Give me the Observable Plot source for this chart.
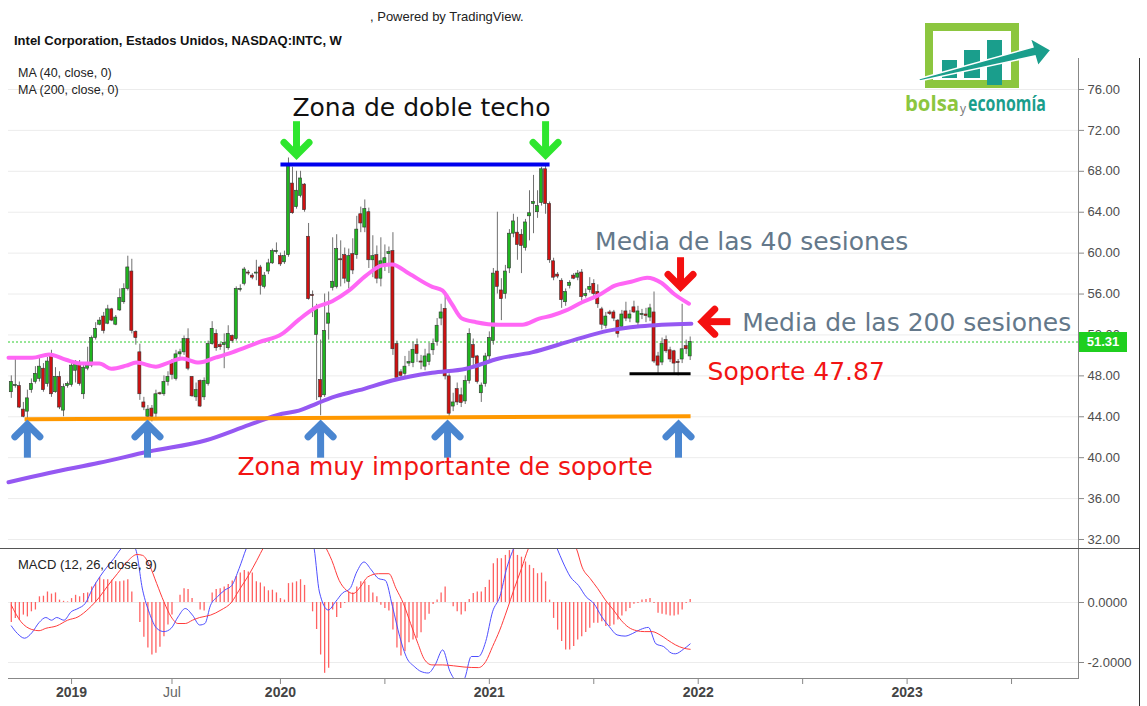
<!DOCTYPE html>
<html><head><meta charset="utf-8">
<script src="https://cdn.jsdelivr.net/npm/d3@7"></script>
<script src="https://cdn.jsdelivr.net/npm/@observablehq/plot@0.6"></script>
<style>
body{margin:0;background:#fff;}
#wrap{position:relative;width:1147px;height:706px;overflow:hidden;background:#fff;font-family:"Liberation Sans",Arial,sans-serif;}
.abs{position:absolute;white-space:nowrap;}
</style></head><body>
<div id="wrap">
  <div id="price" class="abs" style="left:0;top:0"></div>
  <div id="macd" class="abs" style="left:0;top:548px"></div>
  <div class="abs" style="left:370px;top:9px;font-size:13px;color:#222">, Powered by TradingView.</div>
  <div class="abs" style="left:14px;top:33px;font-size:13px;font-weight:bold;color:#111">Intel Corporation, Estados Unidos, NASDAQ:INTC, W</div>
  <div class="abs" style="left:18px;top:66px;font-size:12.5px;color:#222">MA (40, close, 0)</div>
  <div class="abs" style="left:18px;top:83px;font-size:12.5px;color:#222">MA (200, close, 0)</div>
  <div class="abs" style="left:18px;top:557px;font-size:13px;color:#222">MACD (12, 26, close, 9)</div>
  <div class="abs" style="left:0;top:548px;width:1139px;height:1px;background:#555"></div>
  <div class="abs" style="left:1139px;top:58px;width:1px;height:648px;background:#333"></div>
  <div id="lastbox" class="abs" style="left:1079px;width:48px;height:20px;background:#1fcf1f;color:#fff;font-weight:bold;font-size:13px;line-height:20px;text-align:center"></div>
  <svg class="abs" style="left:900px;top:15px" width="200" height="110" viewBox="900 15 200 110">
    <rect x="929" y="27" width="86" height="57" fill="none" stroke="#8cc63f" stroke-width="8"/>
    <rect x="942" y="60" width="15" height="18" fill="#1a9e8c"/>
    <rect x="964" y="50" width="16" height="28" fill="#1a9e8c"/>
    <rect x="987" y="40" width="15" height="45" fill="#1a9e8c"/>
    <polygon points="918,79 1033,47 1030,38 1051,50 1038,66 1035,56 920,81" fill="#1a9e8c" stroke="#fff" stroke-width="1.5"/>
    <text x="905" y="111" font-family="Open Sans, sans-serif" font-weight="bold" font-size="21" fill="#8cc63f" textLength="54" lengthAdjust="spacingAndGlyphs">bolsa</text>
    <text x="960" y="113" font-family="Open Sans, sans-serif" font-size="12" fill="#777">y</text>
    <text x="968" y="111" font-family="Open Sans, sans-serif" font-weight="bold" font-size="21" fill="#1a9e8c" textLength="78" lengthAdjust="spacingAndGlyphs">economía</text>
  </svg>
</div>
<script>
// ---- weekly candles (week 0 = 2018-09-24) ----
const firstWeek = "2018-09-24";
const opens = [46.4,47.0,47.0,44.7,44.5,46.6,47.4,47.7,48.7,47.2, 50.0,46.4,47.9,44.6,47.0,47.1,48.5,49.2,46.2,48.7, 49.0,51.7,53.0,53.8,53.1,54.5,53.0,54.4,55.2,56.5, 58.2,52.3,50.3,45.4,44.0,44.8,44.3,46.3,46.2,47.4, 49.3,47.7,50.1,50.3,51.6,47.9,45.9,47.5,45.9,47.2, 51.1,52.1,51.0,51.0,50.7,51.9,51.6,56.4,57.0,58.1, 57.8,58.0,58.6,56.7,58.2,59.0,60.1,59.7,59.1,59.8, 66.8,64.5,65.6,66.7,61.6,55.9,52.0,47.6,46.1,53.1, 56.6,56.7,59.4,59.8,57.2,59.9,59.8,63.8,62.5,64.0, 59.3,59.8,57.5,58.8,59.9,60.2,51.1,48.35,48.2,49.2, 49.25,51.0,49.4,48.9,49.35,50.5,51.3,53.6,54.55,47.95, 45.0,46.7,46.1,45.5,47.5,51.0,49.9,46.3,47.2,49.9, 51.4,58.2,56.35,56.0,58.5,61.9,62.0,61.8,60.5,63.6, 64.8,64.0,64.9,68.2,64.8,59.2,57.9,57.3,55.2,56.8, 57.8,57.6,58.1,55.8,56.4,57.0,56.2,54.5,52.9,54.2, 54.2,53.4,52.8,54.3,53.6,54.7,53.2,53.95,54.0,53.7, 54.2,49.9,49.3,51.5,50.5,50.4,49.35,49.6,50.9,49.9];
const highs = [48.0,49.8,47.4,45.4,46.6,47.7,48.9,49.7,49.2,49.8, 50.5,48.8,48.4,47.2,47.4,49.2,49.5,49.5,49.2,50.8, 51.9,53.2,53.7,54.2,54.9,54.6,53.9,56.5,57.0,59.7, 59.4,52.4,51.1,45.9,45.1,45.1,46.6,46.4,48.0,48.4, 49.6,50.5,50.6,51.9,52.6,47.9,47.3,47.6,47.8,51.4, 53.3,52.5,51.2,52.1,52.9,52.0,56.7,56.9,58.6,58.3, 58.0,59.3,58.8,58.1,59.4,60.4,61.0,60.0,60.2,69.3, 68.4,68.0,68.0,66.8,62.9,56.3,55.0,51.5,56.0,56.2, 61.5,61.8,61.2,60.5,60.4,61.4,63.6,64.5,65.2,64.4, 61.7,60.7,61.5,60.8,60.6,62.0,51.4,48.6,49.9,50.4, 51.3,51.6,50.0,50.6,51.2,51.6,53.6,55.0,56.2,48.2, 46.3,47.3,46.8,48.0,52.6,51.6,50.0,47.3,50.2,52.3, 58.5,64.0,57.5,58.8,62.3,63.8,63.5,62.3,63.3,66.1, 67.6,66.1,68.4,68.5,65.0,59.5,58.1,57.5,56.5,57.3, 58.0,58.3,58.4,56.5,57.6,57.4,56.9,54.7,54.2,54.4, 54.4,53.5,54.4,55.2,54.4,55.3,54.8,54.5,54.6,55.0, 56.2,50.3,51.7,51.9,50.8,50.5,49.6,55.0,51.5,51.8];
const lows = [45.8,46.8,44.8,43.9,43.8,46.3,47.2,47.4,46.4,46.9, 45.9,46.3,44.7,44.0,46.8,46.9,47.3,47.0,45.7,48.5, 48.8,51.5,52.9,52.1,53.0,53.3,52.9,54.3,55.0,56.3, 52.1,51.0,45.6,44.6,43.3,43.5,43.8,46.1,46.0,47.0, 47.6,47.5,49.8,50.0,48.5,45.9,45.5,44.9,45.6,47.0, 51.0,50.4,50.5,48.7,50.5,51.2,51.4,56.2,56.8,57.8, 57.4,57.3,55.9,56.5,57.9,58.9,59.9,58.7,58.9,59.6, 63.8,64.3,65.4,64.0,55.4,53.7,45.6,44.1,45.9,51.5, 56.3,56.5,56.7,57.0,56.5,57.9,59.4,62.0,62.0,58.5, 57.6,57.0,56.7,58.2,58.0,50.0,47.5,47.8,47.8,48.9, 48.8,49.3,48.6,48.5,49.0,50.0,50.9,52.9,47.6,43.9, 44.5,45.1,44.9,45.2,47.2,49.0,47.2,45.4,46.9,49.5, 51.0,56.0,53.4,55.5,58.0,61.5,59.3,58.0,60.2,61.2, 61.9,63.4,64.6,63.8,59.0,57.3,57.5,54.6,54.8,56.5, 57.4,57.3,55.3,55.6,56.1,55.7,54.6,52.5,52.6,53.9, 53.3,51.7,52.6,53.3,53.2,54.1,52.7,53.5,53.2,53.3, 49.2,48.2,49.0,50.2,49.3,48.1,48.0,49.2,50.1,49.5];
const closes = [47.4,47.1,44.9,44.0,45.8,47.2,48.2,48.9,46.6,49.4, 46.2,47.9,44.9,46.9,47.2,49.0,49.3,47.2,48.8,49.0, 51.7,52.6,53.4,52.4,54.5,53.4,53.7,55.6,56.5,58.6, 52.4,51.7,46.2,44.9,44.7,44.0,46.2,46.2,47.4,47.9, 48.1,50.1,50.3,51.6,48.7,46.0,46.6,45.0,47.5,51.1, 52.6,50.7,50.8,51.2,52.1,51.4,56.5,56.5,58.4,58.0, 57.6,58.1,56.8,57.8,59.0,60.2,60.2,58.9,59.7,68.5, 63.9,66.1,67.3,64.2,55.5,55.8,54.5,45.9,52.4,54.1, 57.2,60.4,59.3,57.5,59.7,58.3,62.3,62.9,64.3,59.3, 59.7,57.5,59.2,59.5,60.1,50.6,47.8,48.0,48.9,49.35, 50.55,50.15,49.3,49.9,50.1,51.1,52.9,54.2,47.95,44.3, 45.4,45.4,45.35,47.5,52.1,49.75,47.4,47.05,49.9,51.7, 58.0,56.7,55.5,58.2,61.9,63.1,60.8,60.7,63.0,63.9, 65.0,64.6,68.2,64.8,59.3,57.6,57.7,55.4,56.2,57.1, 57.5,58.0,55.7,56.0,56.7,56.0,55.0,53.0,53.8,54.05, 53.6,52.1,54.0,53.6,54.0,54.2,54.3,54.05,53.85,54.6, 49.4,49.0,51.1,50.4,49.6,49.2,49.25,50.6,50.6,51.31];
const lastPrice = 51.31;

// ---- moving averages (read at week positions) ----
const ma40Weeks = [-0.7,5.2,9.4,13.6,17.6,21.9,24.9,28.6,31.1,36.0,38.5,42.5,46.7,51.0,55.0,61.7,67.4,71.6,75.9,79.9,84.1,88.3,92.3,94.8,99.0,104.8,107.3,109.7,112.2,115.7,121.4,127.2,131.4,134.6,138.1,142.1,146.3,150.1,154.3,158.3,161.8,165.0,168.7];
const ma40Values = [49.77,49.77,50.1,49.57,49.2,49.2,48.7,49.0,49.3,48.9,49.2,49.7,49.3,49.8,50.3,51.3,52.1,53.5,54.7,55.3,56.35,57.8,58.8,58.9,58.0,56.7,56.35,55.0,53.6,53.25,53.0,53.0,53.6,53.9,54.4,55.2,55.9,56.8,57.2,57.6,57.1,56.0,55.05];
const ma200Weeks = [-0.7,9.4,21.9,34.3,48.5,59.2,67.4,71.6,75.9,79.9,86.6,94.8,104.8,113.2,121.4,129.6,140.0,148.4,156.6,169.3];
const ma200Values = [37.6,38.5,39.5,40.6,41.7,43.2,44.3,44.6,45.27,45.9,46.6,47.55,48.3,48.7,49.7,50.3,51.5,52.4,52.85,53.1];

// ---- MACD panel ----
const histValues = [-0.67,-0.53,-0.59,-0.42,-0.48,-0.31,-0.25,0.19,0.21,0.35, 0.28,0.32,0.08,0.04,0.02,0.13,0.24,0.19,0.30,0.32, 0.52,0.65,0.83,0.76,0.76,0.74,0.69,0.69,0.72,0.76, 0.35,0.0,-0.67,-1.16,-1.52,-1.75,-1.69,-1.49,-1.14,-0.75, -0.42,0.0,0.24,0.46,0.43,0.13,0.0,-0.25,-0.28,0.0, 0.32,0.43,0.46,0.52,0.60,0.72,0.87,0.98,1.07,1.02, 0.98,0.69,0.65,0.52,0.39,0.41,0.32,0.13,0.08,0.63, 0.65,0.69,0.76,0.57,0.0,-0.31,-0.90,-1.75,-2.36,-2.19, -0.25,-0.50,-0.20,-0.03,0.35,0.32,0.52,0.69,0.69,0.57, 0.32,0.19,-0.09,-0.20,-0.28,-0.92,-1.52,-1.78,-1.64,-1.34, -1.25,-1.19,-1.01,-0.59,-0.39,-0.07,0.08,0.32,0.52,0.0, -0.14,-0.31,-0.42,-0.31,0.10,0.30,0.35,0.35,0.50,0.74, 1.29,1.46,1.46,1.57,1.73,1.79,1.57,1.51,1.35,1.24, 1.13,0.96,0.98,0.69,0.08,-0.53,-0.92,-1.30,-1.58,-1.58, -1.47,-1.25,-1.14,-1.0,-0.86,-0.69,-0.69,-0.64,-0.80,-0.80, -0.75,-0.58,-0.45,-0.31,-0.20,-0.06,-0.03,0.08,0.10,0.13, -0.03,-0.36,-0.39,-0.42,-0.45,-0.45,-0.42,-0.25,-0.03,0.10];
const macdWeeks = [0,1.5,3.3,5.1,6.9,8.6,10.0,11.3,13.1,14.9,16.6,18.4,20.2,22.0,23.8,25.5,27.3,29.1,30.9,32.7,34.4,36.2,38.0,39.8,41.5,43.3,45.1,46.9,48.2,49.6,51.3,53.1,54.9,56.7,58.5,60.2,63.8,68.2,70.9,73.6,75.4,76.7,78.9,80.7,82.5,84.3,86.0,87.8,89.6,91.4,93.1,94.9,96.7,98.5,100.3,102.0,103.8,105.5,107.4,109.2,110.9,112.7,114.5,116.3,118.1,119.8,121.6,123.4,125.2,127,130.5,134,135.9,137.3,139.2,141.2,143.1,145.0,147.0,148.9,150.8,152.8,154.7,156.6,158.6,160.5,162.4,164.4,165.3,167.3,169.0];
const macdValues = [-0.78,-1.03,-1.19,-1.01,-0.67,-0.50,-0.59,-0.50,-0.59,-0.31,-0.20,-0.03,0.46,0.85,1.18,1.46,1.79,2.0,1.79,0.41,-0.36,-0.86,-0.97,-0.86,-0.48,-0.20,-0.42,-0.75,-0.70,-0.09,0.19,0.41,0.57,1.13,1.8,2.3,2.5,2.6,3.2,2.6,1.79,0.35,-0.25,0.02,0.32,0.46,1.02,1.35,1.09,0.80,0.74,-0.14,-1.14,-1.86,-2.13,-2.30,-2.35,-2.08,-1.58,-2.30,-2.6,-2.55,-1.80,-1.80,-1.30,-0.31,0.19,1.18,1.85,2.4,2.8,2.4,1.79,1.35,0.85,0.57,0.19,-0.03,-0.48,-0.81,-1.08,-1.12,-1.03,-0.90,-0.83,-1.38,-1.47,-1.69,-1.71,-1.56,-1.38];
const signalWeeks = [0,2.4,5.1,6.9,8.6,11.3,14.0,16.6,19.3,22.0,23.8,26.4,29.1,31.3,32.7,34.4,36.2,38.0,39.8,41.5,43.3,45.1,46.9,49.6,52.2,54.9,56.7,59.3,61.1,62.9,66.5,70.9,75.4,78.0,79.8,81.6,83.4,85.1,86.9,88.7,91.4,94.0,95.8,97.6,99.4,101.2,102.9,104.7,107.4,110.1,112.7,116.3,118.1,119.8,121.6,123.4,125.2,127.0,128.7,132.3,135.9,140.7,142.1,144.1,146.0,147.9,149.9,151.8,153.7,155.7,157.6,159.5,161.5,163.4,165.3,167.3,169.0];
const signalValues = [-0.09,-0.64,-0.90,-0.94,-0.86,-0.78,-0.59,-0.48,-0.20,0.19,0.52,0.96,1.40,1.60,1.57,1.24,0.63,0.02,-0.48,-0.70,-0.70,-0.59,-0.50,-0.42,-0.25,0.02,0.41,0.96,1.40,1.85,2.3,2.6,2.4,1.9,1.40,0.74,0.41,0.30,0.52,0.85,0.96,0.96,0.46,-0.03,-0.70,-1.36,-1.91,-2.08,-2.08,-2.11,-2.15,-2.17,-1.97,-1.47,-0.92,-0.25,0.46,1.13,1.79,2.4,2.6,1.79,1.18,0.80,0.46,0.08,-0.25,-0.59,-0.83,-0.94,-0.97,-0.97,-1.08,-1.25,-1.41,-1.52,-1.56];

// ---- axes ----
const priceTicks = [32,36,40,44,48,52,56,60,64,68,72,76];
const macdTicks = [0,-2];
const yearTicks = ["2019-01-07","2020-01-06","2021-01-04","2022-01-03","2023-01-02"];
const julTicks = ["2019-07-01","2020-07-06","2021-07-05","2022-07-04","2023-07-03"];
const julLabels = ["Jul","","","",""];

// ---- annotations (week index, price) ----
const annTexts = ["Zona de doble techo","Media de las 40 sesiones","Media de las 200 sesiones","Soporte 47.87","Zona muy importante de soporte"];
const annWeeks = [102.1,184.3,222.9,195.4,108.0];
const annPrices = [74.19,61.04,53.12,48.33,39.04];
const annColors = ["#111111","#64788a","#64788a","#f21414","#f21414"];
// arrows: tail (week, price) -> tip (week, price)
const arrowTailWeeks = [71.0,133.0, 4.0,33.9,77.0,108.6,166.1, 166.6, 179.0];
const arrowTailPrices = [72.9,72.9, 40.0,40.0,40.0,40.0,40.0, 59.6, 53.3];
const arrowTipWeeks = [71.0,133.0, 4.0,33.9,77.0,108.6,166.1, 166.6, 171.0];
const arrowTipPrices = [69.2,69.2, 43.65,43.65,43.65,43.65,43.65, 56.3, 53.3];
const arrowColors = ["#2ee62e","#2ee62e","#4a86d0","#4a86d0","#4a86d0","#4a86d0","#4a86d0","#f41010","#f41010"];

const t0 = new Date(firstWeek + "T00:00:00Z").getTime();
const wk = i => new Date(t0 + i * 7 * 864e5);
const weekDomain = [-0.70, 265.67];
const priceDomain = [31.12, 79.03];
const xDomain = weekDomain.map(wk);

// pixel scale factors of the price panel (for the arrowhead geometry)
const W = 1147, H = 548, mL = 8, mR = 69, mT = 58, mB = 0;
const kx = (W - mL - mR) / (weekDomain[1] - weekDomain[0]);
const ky = (H - mT - mB) / (priceDomain[1] - priceDomain[0]);

const candles = opens.map((o, i) => ({date: wk(i), x1: wk(i - 0.38), x2: wk(i + 0.38), o, h: highs[i], l: lows[i], c: closes[i]}));
const ma40 = ma40Weeks.map((w, i) => ({date: wk(w), v: ma40Values[i]}));
const ma200 = ma200Weeks.map((w, i) => ({date: wk(w), v: ma200Values[i]}));
const anns = annTexts.map((t, i) => ({t, date: wk(annWeeks[i]), p: annPrices[i], col: annColors[i]}));

const shafts = [], heads = [];
arrowTailWeeks.forEach((tw, i) => {
  const ax = tw * kx, ay = -arrowTailPrices[i] * ky;
  const bx = arrowTipWeeks[i] * kx, by = -arrowTipPrices[i] * ky;
  const len = Math.hypot(bx - ax, by - ay), ux = (bx - ax) / len, uy = (by - ay) / len;
  const nx = -uy, ny = ux;
  const vx = bx - 4 * ux, vy = by - 4 * uy;
  const wing = 12.5;
  const toD = (px, py) => ({date: wk(px / kx), p: -py / ky, k: i, col: arrowColors[i]});
  const t = toD(ax, ay), v = toD(vx, vy);
  shafts.push({d1: t.date, p1: t.p, d2: v.date, p2: v.p, col: arrowColors[i]});
  heads.push(toD(vx - wing * ux + wing * nx, vy - wing * uy + wing * ny), v, toD(vx - wing * ux - wing * nx, vy - wing * uy - wing * ny));
});

const commonStyle = {background: "transparent", fontFamily: "Liberation Sans, Arial, sans-serif", overflow: "visible"};

const price = Plot.plot({
  width: W, height: H, marginTop: mT, marginBottom: mB, marginLeft: mL, marginRight: mR,
  style: commonStyle,
  x: {type: "utc", domain: xDomain, axis: null},
  y: {domain: priceDomain, axis: null},
  marks: [
    Plot.gridY(priceTicks, {stroke: "#ececec", strokeOpacity: 1}),
    Plot.ruleY([lastPrice], {stroke: "#2ecc2e", strokeDasharray: "2,2"}),
    Plot.ruleX(candles, {x: "date", y1: "l", y2: "h", stroke: "#707070", strokeWidth: 1}),
    Plot.rect(candles, {x1: "x1", x2: "x2", y1: "o", y2: "c", fill: d => d.c >= d.o ? "#1fb51f" : "#d01010", stroke: "#333", strokeWidth: 0.6}),
    Plot.line(ma200, {x: "date", y: "v", stroke: "#9558f2", strokeWidth: 4, curve: "monotone-x"}),
    Plot.line(ma40, {x: "date", y: "v", stroke: "#ff66f5", strokeWidth: 4, curve: "monotone-x"}),
    Plot.link([{a: wk(67.0), b: wk(134.0)}], {x1: "a", x2: "b", y1: 68.67, y2: 68.67, stroke: "#0000ee", strokeWidth: 4}),
    Plot.link([{a: wk(3.3), b: wk(169.1)}], {x1: "a", x2: "b", y1: 43.75, y2: 44.05, stroke: "#ff9800", strokeWidth: 4}),
    Plot.link([{a: wk(153.9), b: wk(169.1)}], {x1: "a", x2: "b", y1: 48.2, y2: 48.2, stroke: "#000", strokeWidth: 3}),
    Plot.link(shafts, {x1: "d1", y1: "p1", x2: "d2", y2: "p2", stroke: "col", strokeWidth: 7}),
    Plot.line(heads, {x: "date", y: "p", z: "k", stroke: "col", strokeWidth: 7, strokeLinejoin: "miter", strokeMiterlimit: 4}),
    Plot.text(anns, {x: "date", y: "p", text: "t", fill: "col", fontSize: 25, fontFamily: "DejaVu Sans", textAnchor: "middle", lineAnchor: "middle"}),
    Plot.axisY({anchor: "right", label: null, ticks: priceTicks, tickFormat: d => d.toFixed(2), tickSize: 5, tickPadding: 4, fontSize: 13, fill: "#4d4d4d", stroke: "#888"}),
    Plot.frame({anchor: "right", stroke: "#888"})
  ]
});
document.getElementById("price").appendChild(price);

const hist = histValues.map((v, i) => ({date: wk(i), v}));
const macd = macdWeeks.map((w, i) => ({date: wk(w), v: macdValues[i]}));
const sig = signalWeeks.map((w, i) => ({date: wk(w), v: signalValues[i]}));
const macdChart = Plot.plot({
  width: W, height: 158, marginTop: 0, marginBottom: 28, marginLeft: mL, marginRight: mR,
  style: commonStyle,
  x: {type: "utc", domain: xDomain, axis: null},
  y: {domain: [-2.533, 1.8], axis: null},
  marks: [
    Plot.gridY(macdTicks, {stroke: "#ececec", strokeOpacity: 1}),
    Plot.ruleX(hist, {x: "date", y1: 0, y2: "v", stroke: "#ff6161", strokeWidth: 1.3}),
    Plot.line(macd, {x: "date", y: "v", stroke: "#4f4fff", strokeWidth: 1, curve: "monotone-x", clip: true}),
    Plot.line(sig, {x: "date", y: "v", stroke: "#ff3c3c", strokeWidth: 1, curve: "monotone-x", clip: true}),
    Plot.axisY({anchor: "right", label: null, ticks: macdTicks, tickFormat: d => d.toFixed(4), tickSize: 5, tickPadding: 4, fontSize: 13, fill: "#4d4d4d", stroke: "#888"}),
    Plot.axisX({label: null, ticks: yearTicks.map(d => new Date(d)), tickFormat: d => String(d.getUTCFullYear()), fontSize: 14, fontWeight: "bold", fill: "#444", stroke: "#888", tickSize: 6, tickPadding: 3}),
    Plot.axisX({label: null, ticks: julTicks.map(d => new Date(d)), tickFormat: (d, i) => julLabels[i], fontSize: 14, fill: "#666", stroke: "#888", tickSize: 6, tickPadding: 3}),
    Plot.frame({anchor: "bottom", stroke: "#888"}),
    Plot.frame({anchor: "right", stroke: "#888"})
  ]
});
document.getElementById("macd").appendChild(macdChart);

const box = document.getElementById("lastbox");
box.textContent = lastPrice.toFixed(2);
box.style.top = (price.scale("y").apply(lastPrice) - 10) + "px";
</script>
</body></html>
